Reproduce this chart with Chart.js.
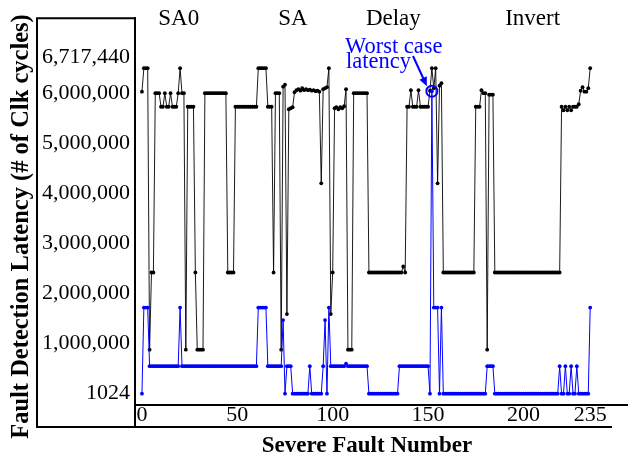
<!DOCTYPE html>
<html><head><meta charset="utf-8">
<script src="https://cdn.jsdelivr.net/npm/chart.js@4.4.1/dist/chart.umd.min.js"></script>
<style>html,body{margin:0;padding:0;background:#fff;}canvas{display:block;}</style>
</head><body>
<canvas id="c" width="631" height="457"></canvas>
<script>
// ---- data ----
const blackLatency = [
6030000,6500000,6500000,6500000,880000,2420000,2420000,6000000,6000000,6000000,
5730000,5730000,6000000,5730000,5730000,6000000,5730000,5730000,5730000,6000000,
6500000,6000000,6000000,880000,5730000,5730000,5730000,5730000,2420000,880000,
880000,880000,880000,6000000,6000000,6000000,6000000,6000000,6000000,6000000,
6000000,6000000,6000000,6000000,6000000,2420000,2420000,2420000,2420000,5730000,
5730000,5730000,5730000,5730000,5730000,5730000,5730000,5730000,5730000,5730000,
5730000,6500000,6500000,6500000,6500000,6500000,5730000,5730000,5730000,2420000,
6000000,6000000,6000000,880000,6130000,6170000,1590000,5680000,5700000,5720000,
6020000,6060000,6080000,6050000,6100000,6060000,6080000,6060000,6070000,6050000,
6060000,6040000,6050000,6030000,4200000,6080000,6100000,6120000,6500000,1590000,
2420000,5700000,5720000,5680000,5720000,5700000,5740000,6080000,880000,880000,
880000,6000000,6000000,6000000,6000000,6000000,6000000,6000000,6000000,2420000,
2420000,2420000,2420000,2420000,2420000,2420000,2420000,2420000,2420000,2420000,
2420000,2420000,2420000,2420000,2420000,2420000,2420000,2540000,2420000,5730000,
5730000,6060000,5730000,5730000,5730000,6060000,5730000,5730000,5730000,5730000,
5730000,6050000,6500000,6100000,6500000,4200000,6150000,6200000,2420000,2420000,
2420000,2420000,2420000,2420000,2420000,2420000,2420000,2420000,2420000,2420000,
2420000,2420000,2420000,2420000,2420000,5730000,5730000,5730000,6060000,6000000,
6000000,880000,5970000,5970000,5970000,2420000,2420000,2420000,2420000,2420000,
2420000,2420000,2420000,2420000,2420000,2420000,2420000,2420000,2420000,2420000,
2420000,2420000,2420000,2420000,2420000,2420000,2420000,2420000,2420000,2420000,
2420000,2420000,2420000,2420000,2420000,2420000,2420000,2420000,2420000,2420000,
5730000,5660000,5730000,5660000,5730000,5660000,5730000,5730000,5730000,5780000,
6050000,6120000,6030000,6030000,6100000,6500000
];
const blueLatency = [
1024,1720000,1720000,1720000,550000,550000,550000,550000,550000,550000,
550000,550000,550000,550000,550000,550000,550000,550000,550000,550000,
1720000,550000,550000,550000,550000,550000,550000,550000,550000,550000,
550000,550000,550000,550000,550000,550000,550000,550000,550000,550000,
550000,550000,550000,550000,550000,550000,550000,550000,550000,550000,
550000,550000,550000,550000,550000,550000,550000,550000,550000,550000,
550000,1720000,1720000,1720000,1720000,1720000,550000,550000,550000,550000,
550000,550000,550000,550000,1470000,1024,550000,550000,550000,1024,
1024,1024,1024,1024,1024,1024,1024,1024,550000,1024,
1024,1024,1024,1024,1024,550000,1470000,1024,1720000,550000,
550000,550000,550000,550000,550000,550000,550000,600000,550000,550000,
550000,550000,550000,550000,550000,550000,550000,550000,550000,1024,
1024,1024,1024,1024,1024,1024,1024,1024,1024,1024,
1024,1024,1024,1024,1024,550000,550000,550000,550000,550000,
550000,550000,550000,550000,550000,550000,550000,550000,550000,550000,
550000,1024,6040000,1720000,1720000,1720000,1024,1720000,1024,1024,
1024,1024,1024,1024,1024,1024,1024,1024,1024,1024,
1024,1024,1024,1024,1024,1024,1024,1024,1024,1024,
1024,550000,550000,550000,550000,1024,1024,1024,1024,1024,
1024,1024,1024,1024,1024,1024,1024,1024,1024,1024,
1024,1024,1024,1024,1024,1024,1024,1024,1024,1024,
1024,1024,1024,1024,1024,1024,1024,1024,1024,550000,
1024,1024,550000,1024,1024,550000,1024,1024,550000,1024,
1024,1024,1024,1024,1024,1720000
];
const faultNumbers = blackLatency.map((_, i) => i);
const xTicks = [0, 50, 100, 150, 200, 235];
const yTicks = [1024, 1000000, 2000000, 3000000, 4000000, 5000000, 6000000, 6717440];
const yTickLabels = ['1024','1,000,000','2,000,000','3,000,000','4,000,000','5,000,000','6,000,000','6,717,440'];
const sectionLabels = ['SA0', 'SA', 'Delay', 'Invert'];
const sectionCenters = [19.3, 79.2, 131.8, 204.8];
const worstCaseIndex = 152;
const yTitle = 'Fault Detection Latency (# of Clk cycles)';
const xTitle = 'Severe Fault Number';
const noteLines = ['Worst case', 'latency'];

// ---- chart ----
const BLUE = '#0000ff';
const SERIF = '"Liberation Serif", "Times New Roman", serif';

const decor = {
  id: 'decor',
  afterDraw(chart) {
    const ctx = chart.ctx, a = chart.chartArea;
    const xs = chart.scales.x, ys = chart.scales.y;
    ctx.save();
    // frame
    ctx.strokeStyle = '#000'; ctx.lineWidth = 2;
    ctx.beginPath();
    ctx.moveTo(a.left - 99, a.top); ctx.lineTo(a.left, a.top);
    ctx.moveTo(a.left - 98, a.top - 1); ctx.lineTo(a.left - 98, a.bottom + 23);
    ctx.moveTo(a.left - 99, a.bottom + 22); ctx.lineTo(612, a.bottom + 22);
    ctx.moveTo(a.left, a.top - 1); ctx.lineTo(a.left, a.bottom + 23);
    ctx.stroke();
    // titles
    ctx.fillStyle = '#000';
    ctx.font = 'bold 24.5px ' + SERIF;
    ctx.textAlign = 'center'; ctx.textBaseline = 'alphabetic';
    ctx.save();
    ctx.translate(28, 226.5); ctx.rotate(-Math.PI / 2);
    ctx.fillText(yTitle, 0, 0);
    ctx.restore();
    ctx.font = 'bold 23px ' + SERIF;
    ctx.fillText(xTitle, 367, 452);
    // section labels
    ctx.font = '23px ' + SERIF;
    sectionLabels.forEach((s, k) => ctx.fillText(s, xs.getPixelForValue(sectionCenters[k]), 25));
    // worst case annotation
    const px = xs.getPixelForValue(faultNumbers[worstCaseIndex]);
    const py = ys.getPixelForValue(blueLatency[worstCaseIndex]);
    ctx.strokeStyle = BLUE; ctx.fillStyle = BLUE; ctx.lineWidth = 2;
    ctx.beginPath(); ctx.arc(px, py, 5.5, 0, Math.PI * 2); ctx.stroke();
    ctx.font = '22.5px ' + SERIF; ctx.textAlign = 'left';
    ctx.fillText(noteLines[0], 345, 53);
    ctx.fillText(noteLines[1], 346, 68);
    const x0 = 413, y0 = 56, x1 = px - 5, y1 = py - 5;
    const ang = Math.atan2(y1 - y0, x1 - x0);
    ctx.beginPath(); ctx.moveTo(x0, y0); ctx.lineTo(x1 - 6 * Math.cos(ang), y1 - 6 * Math.sin(ang)); ctx.stroke();
    ctx.beginPath();
    ctx.moveTo(x1, y1);
    ctx.lineTo(x1 - 9 * Math.cos(ang) + 4 * Math.sin(ang), y1 - 9 * Math.sin(ang) - 4 * Math.cos(ang));
    ctx.lineTo(x1 - 9 * Math.cos(ang) - 4 * Math.sin(ang), y1 - 9 * Math.sin(ang) + 4 * Math.cos(ang));
    ctx.closePath(); ctx.fill();
    ctx.restore();
  }
};

new Chart(document.getElementById('c'), {
  type: 'line',
  data: {
    datasets: [
      { label: 'blue', data: blueLatency.map((v, i) => ({x: faultNumbers[i], y: v})),
        borderColor: BLUE, backgroundColor: BLUE, borderWidth: 1, pointRadius: 1.9,
        pointBorderWidth: 0, tension: 0 },
      { label: 'black', data: blackLatency.map((v, i) => ({x: faultNumbers[i], y: v})),
        borderColor: '#000', backgroundColor: '#000', borderWidth: 0.9, pointRadius: 1.9,
        pointBorderWidth: 0, tension: 0 }
    ]
  },
  options: {
    responsive: false, animation: false, devicePixelRatio: 1,
    layout: { padding: { left: 0, top: 8, right: 1, bottom: 30 } },
    plugins: { legend: { display: false }, tooltip: { enabled: false } },
    scales: {
      x: {
        type: 'linear', min: -3.648, max: 254.3,
        afterFit(s) { s.height = 22; },
        afterBuildTicks(s) { s.ticks = xTicks.map(v => ({value: v})); },
        grid: { display: false, drawTicks: false },
        border: { display: true, color: '#000', width: 2 },
        ticks: { autoSkip: false, maxRotation: 0, padding: -3, color: '#000',
                 font: { family: SERIF, size: 22 } }
      },
      y: {
        type: 'linear', min: -225700, max: 7498000,
        afterFit(s) { s.width = 135; },
        afterBuildTicks(s) { s.ticks = yTicks.map(v => ({value: v})); },
        grid: { display: false, drawTicks: false },
        border: { display: true, color: '#000', width: 2 },
        ticks: { autoSkip: false, padding: 5, color: '#000',
                 font: { family: SERIF, size: 22 },
                 callback: (v) => yTickLabels[yTicks.indexOf(v)] }
      }
    }
  },
  plugins: [decor]
});
</script>
</body></html>
